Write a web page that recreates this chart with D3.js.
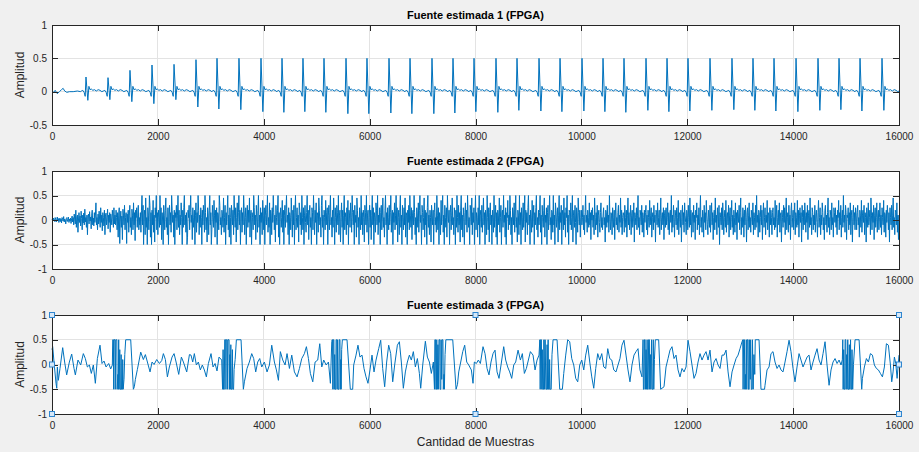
<!DOCTYPE html>
<html>
<head>
<meta charset="utf-8">
<script src="https://cdn.jsdelivr.net/npm/d3@7"></script>
<style>
  body { margin: 0; background: #f0f0f0; }
  svg { display: block; font-family: "Liberation Sans", Arial, Helvetica, sans-serif; }
</style>
</head>
<body>
<div id="chart"></div>
<script>
// ---- datos ----
const titulos = ["Fuente estimada 1 (FPGA)", "Fuente estimada 2 (FPGA)", "Fuente estimada 3 (FPGA)"];
const etiquetaY = "Amplitud";
const etiquetaX = "Cantidad de Muestras";
const ticksX = [0, 2000, 4000, 6000, 8000, 10000, 12000, 14000, 16000];
const ticksY1 = [-0.5, 0, 0.5, 1];
const ticksY23 = [-1, -0.5, 0, 0.5, 1];

// Fuente 1: tramo inicial, posicion de cada latido, pico y valle de cada uno, forma del latido
const inicio1 = [[0, .01], [30, -.01], [60, .02], [100, -.03], [140, 0], [180, .03], [210, .05], [240, .01],
  [280, -.01], [330, 0], [400, 0], [480, .01], [540, 0]];
const latidos = [642, 1058, 1473, 1889, 2305, 2720, 3117, 3532, 3948, 4345, 4741, 5138, 5554, 5950, 6366,
  6763, 7178, 7575, 7972, 8387, 8784, 9200, 9597, 10012, 10409, 10805, 11221, 11618, 12014, 12430, 12845,
  13242, 13639, 14055, 14470, 14867, 15264, 15679];
const picos = [.22, .21, .32, .40, .41, .48, .5, .5, .5, .5, .5, .5, .5, .5, .5, .5, .5, .5, .5, .5, .5, .5,
  .5, .5, .5, .5, .5, .5, .5, .5, .5, .5, .5, .5, .5, .5, .5, .5];
const valles = [-.13, -.12, -.15, -.18, -.12, -.23, -.26, -.27, -.3, -.31, -.3, -.31, -.33, -.33, -.32, -.33,
  -.33, -.32, -.3, -.31, -.28, -.29, -.3, -.29, -.3, -.31, -.28, -.3, -.29, -.28, -.27, -.28, -.29, -.3,
  -.28, -.27, -.29, -.28];
const formaDesfase = [-90, -60, -35, -15, 0, 35, 55, 75, 100, 130, 160, 195, 230, 265, 300];
const formaNivel = [.01, .02, -.01, -.07, "P", "V", .08, .03, .04, .02, .03, .01, .03, .02, 0];

// Fuente 2: una muestra cada 10 (cada fila = 400 muestras)
const paso2 = 10;
const fuente2 = [
  .01,.03,-.02,.04,0,-.03,.05,.02,-.04,.01,.06,-.02,.03,-.05,0,.04,-.03,.02,-.06,.05,.01,-.02,.07,-.04,.02,0,-.08,.03,.05,-.03,.01,.06,-.05,.02,-.02,.04,-.07,.03,.08,-.04,
  .05,-.1,.12,.02,-.08,.2,-.15,.06,.1,-.25,0,.15,-.05,.08,-.12,.18,.03,-.2,.1,-.06,.14,-.1,.22,-.04,.05,-.15,.1,-.3,.08,.12,-.08,.17,-.02,.06,-.18,.1,.2,-.1,.04,-.12,
  .15,-.05,.1,.35,-.1,.05,-.2,.12,-.08,.18,0,-.15,.25,-.05,.1,-.22,.15,.05,-.12,.2,-.3,.08,.14,-.1,.05,.22,-.18,.1,-.05,.15,-.25,.12,.02,-.1,.2,.08,-.15,.25,-.08,.1,
  -.1,.2,.05,-.2,.15,-.35,.1,.25,-.48,0,.18,-.15,.08,-.4,.22,.1,-.1,.3,-.2,.05,.15,-.48,.12,-.05,.2,-.25,.1,.3,-.15,.05,-.3,.22,.1,-.2,.35,-.1,.15,-.42,.2,.05,
  .25,-.15,.1,.3,-.2,.05,-.1,.15,-.25,.2,.5,-.1,.3,-.5,.1,.2,-.3,.45,-.15,.05,-.5,.25,.1,-.2,.5,.3,-.35,.15,-.5,.2,-.1,.4,-.25,.1,-.45,.25,.05,.5,-.2,.15,
  -.3,.2,.05,-.15,.5,-.1,.25,-.4,.15,0,-.5,.3,.1,-.2,.2,.45,-.15,.05,-.3,.25,-.5,.1,.3,-.1,.15,-.25,.5,.2,-.05,.1,-.35,.2,-.5,.15,.05,.3,-.2,.1,.5,-.15,
  .2,-.3,.1,-.1,.35,.05,-.5,.2,-.15,.25,.5,-.1,.1,-.25,.15,-.5,-.35,.2,.05,.3,-.2,.15,.5,-.05,.1,-.4,.25,-.15,.05,.2,-.5,.1,.35,-.25,.15,-.05,.5,.2,-.3,.1,
  -.15,.25,.05,-.5,.2,-.1,.3,.1,-.25,.5,.15,-.2,.05,-.45,.25,.1,-.3,.2,.5,-.1,.15,-.5,-.2,.3,.05,-.15,.4,.1,-.35,.2,-.05,.25,-.5,.15,.1,-.2,.5,.3,-.1,.05,
  -.3,.2,.1,-.15,.45,-.25,.05,.3,-.5,.15,-.1,.2,.5,-.2,.1,-.35,.25,.05,-.5,.3,.15,-.1,.2,-.3,.5,.1,-.15,.25,-.45,.05,.35,-.2,.15,.5,-.1,.2,-.5,.1,.25,-.25,
  .15,-.1,.5,.2,-.3,.05,.25,-.5,.1,.3,-.15,.2,-.05,.45,-.35,.1,.2,-.5,.15,.05,-.2,.5,.25,-.1,.1,-.4,.3,.05,-.25,.2,.5,-.15,.1,-.5,.25,-.05,.15,-.3,.4,.1,
  -.2,.25,-.5,.1,.3,-.1,.15,.5,-.25,.05,-.15,.35,-.5,.2,.1,-.3,.25,-.05,.5,.15,-.2,.1,-.45,.3,.05,-.1,.2,.5,-.35,.15,-.5,.1,.25,-.15,.05,.4,-.25,.2,-.5,.1,
  .3,-.15,.2,.5,-.05,.1,-.3,.25,-.5,.15,.05,-.2,.45,.1,-.35,.2,-.1,.3,-.5,.15,.5,-.2,.05,.25,-.15,.1,-.45,.35,.2,-.1,.15,-.3,.5,.05,-.2,.25,-.5,.1,.3,-.05,
  -.25,.15,.5,-.1,.2,-.4,.1,.3,-.15,.05,-.5,.25,.15,-.2,.5,.1,-.3,.2,-.05,.35,-.5,.15,.1,-.25,.45,.2,-.1,.05,-.35,.3,.5,-.15,.1,-.5,.2,.05,-.2,.4,-.1,.15,
  .25,-.5,.1,.3,-.2,.15,.5,-.1,.05,-.35,.2,-.15,.45,.1,-.5,.25,.05,-.25,.3,.15,-.1,.5,-.3,.1,.2,-.45,.05,.35,-.15,.2,-.5,.1,.5,-.2,.15,.05,-.3,.25,-.1,.4,
  -.5,.2,.1,-.15,.35,.05,-.25,.5,.15,-.1,.2,-.5,.3,-.05,.1,-.35,.45,.2,-.15,.05,-.5,.25,.1,-.2,.5,-.1,.15,-.3,.2,.05,-.45,.3,.15,-.1,.5,-.25,.1,.2,-.5,.05,
  .3,-.15,.2,-.4,.1,.5,-.1,.25,-.5,.15,.05,-.25,.35,.2,-.1,.5,-.3,.1,-.05,.25,-.5,.15,.3,-.2,.1,.45,-.15,.05,-.35,.2,.5,-.1,.15,-.5,.25,.05,-.2,.3,-.1,.15,
  .5,-.25,.1,.2,-.5,.15,-.05,.35,-.2,.1,.5,-.1,.25,-.45,.05,.2,-.3,.15,.5,-.15,.1,-.5,.3,.05,-.2,.25,-.1,.45,-.35,.15,.1,-.5,.2,-.05,.3,-.2,.5,.1,-.15,.25,
  -.4,.1,.2,-.1,.5,.15,-.3,.05,-.5,.25,.1,-.15,.35,-.25,.2,.5,-.05,.1,-.5,.3,.15,-.2,.05,.45,-.35,.2,-.1,.15,-.5,.25,.5,-.15,.1,-.3,.2,.05,-.45,.3,.1,-.1,
  .2,-.5,.15,.35,-.1,.05,-.25,.5,.1,-.2,.25,-.5,.15,.05,-.3,.4,-.1,.2,.5,-.25,.1,-.5,.3,.05,-.15,.25,-.35,.5,.1,-.05,.2,-.5,.15,.3,-.2,.1,.45,-.1,.05,-.3,
  .25,.1,-.5,.2,-.15,.5,.05,-.25,.3,-.1,.15,-.45,.2,.5,-.2,.1,-.35,.25,.05,-.5,.15,.35,-.1,.2,-.25,.5,.1,-.15,.05,-.5,.3,.2,-.1,.45,-.3,.15,-.05,.25,-.5,.1,
  .5,-.2,.15,.05,-.35,.25,-.1,.5,-.5,.1,.2,-.15,.3,-.25,.05,.45,-.1,.15,-.5,.2,.1,-.3,.5,.05,-.2,.25,-.45,.15,.35,-.1,.1,-.5,.2,.05,-.25,.5,-.15,.1,.3,-.35,
  .15,-.5,.2,.1,-.1,.45,-.25,.05,.3,-.5,.15,.2,-.15,.5,-.05,.1,-.35,.25,-.5,.15,.05,.4,-.2,.1,-.1,.5,.2,-.3,.05,-.5,.25,.15,-.1,.35,-.25,.1,.5,-.15,.05,-.45,
  .2,.1,-.3,.5,-.1,.15,-.5,.25,.05,-.2,.35,-.15,.1,.5,-.45,.2,-.05,.15,-.3,.25,.5,-.1,.1,-.5,.2,.05,-.25,.4,-.15,.1,.3,-.5,.15,-.1,.25,.5,-.2,.05,-.35,.2,
  -.1,.15,.5,-.25,.1,-.5,.3,.05,-.15,.2,.45,-.35,.1,-.05,.25,-.5,.15,.3,-.2,.1,.5,-.1,.05,-.4,.2,.15,-.25,.5,-.1,.1,-.5,.35,.2,-.15,.05,.25,-.45,.1,.5,-.2,
  .15,-.05,.3,-.5,.2,.1,-.2,.45,-.1,.15,-.35,.25,.05,.5,-.25,.1,-.5,.2,.15,-.1,.35,-.2,.05,.5,-.45,.1,.2,-.15,.3,-.05,-.5,.25,.1,-.25,.45,.15,-.1,.2,-.35,.05,
  .2,-.1,.05,.3,-.2,.1,-.3,.15,.5,-.05,.1,-.25,.2,.05,-.15,.35,-.1,.15,-.4,.2,0,.25,-.15,.1,-.3,.45,.05,-.2,.15,-.1,.3,-.35,.1,.2,-.05,-.25,.15,.35,-.15,.05,
  -.2,.1,.25,-.1,.05,-.45,.2,.15,-.15,.3,-.05,.1,-.25,.5,0,-.2,.15,.1,-.3,.25,.05,-.15,.2,-.4,.1,.35,-.1,.05,-.2,.15,.3,-.25,.1,-.05,.45,-.15,.2,-.3,.05,.15,
  .1,-.25,.3,.05,-.15,.2,-.35,.1,.45,-.1,.15,-.2,.05,.3,-.3,.1,.2,-.15,0,.35,-.45,.15,.05,-.1,.25,-.2,.1,.5,-.15,.05,-.3,.2,.1,-.1,.3,-.25,.15,.05,-.35,.2,
  -.05,.15,.3,-.2,.1,-.3,.2,.05,-.15,.4,-.1,.1,.25,-.35,.05,.15,-.2,.3,-.05,.1,-.45,.2,.15,-.1,.35,-.15,.05,.2,-.3,.1,.45,-.2,.05,.15,-.1,.25,-.4,.1,.2,-.15,
  .25,-.1,.05,.35,-.2,.15,-.3,.1,.2,-.05,.5,-.25,.1,-.15,.3,.05,-.35,.2,.1,-.1,.25,-.2,.05,.4,-.3,.15,.1,-.15,.2,-.45,.05,.3,-.1,.15,-.25,.35,.1,-.05,-.3,.2,
  .1,-.2,.3,.05,-.15,.45,-.1,.2,-.35,.1,.15,-.25,.3,-.05,.1,-.4,.2,.05,.35,-.2,.1,-.1,.25,-.3,.15,.5,-.15,.05,-.25,.2,.1,-.35,.3,-.05,.15,-.2,.4,.1,-.1,-.3,
  .2,.05,-.15,.3,-.25,.1,.35,-.1,.15,-.4,.05,.2,-.2,.45,-.05,.1,-.3,.25,.1,-.15,.3,-.5,.15,.05,-.1,.25,-.2,.35,.1,-.3,.05,.2,-.15,.4,-.25,.1,.15,-.1,.3,-.35,
  .1,.25,-.2,.05,.4,-.15,.1,-.3,.2,.05,-.25,.35,-.1,.15,-.4,.2,.1,-.05,.3,-.2,.15,.45,-.3,.05,-.15,.25,.1,-.35,.2,-.1,.3,.05,-.45,.15,.25,-.2,.1,.35,-.15,.05,
  -.25,.2,.1,-.1,.35,-.3,.15,.05,-.2,.3,-.15,.5,-.05,.1,-.35,.2,.15,-.25,.05,.3,-.1,.2,-.4,.1,.35,-.15,.05,.25,-.3,.1,-.05,.4,-.2,.15,.1,-.35,.25,-.1,.2,.05,
  -.3,.15,.25,-.1,.05,-.2,.4,-.15,.1,.3,-.35,.05,.2,-.1,.35,-.25,.1,.15,-.45,.2,.05,-.15,.3,-.05,.25,-.3,.1,.45,-.2,.05,.15,-.25,.3,-.1,.1,-.4,.2,.35,-.15,.05,
  .2,-.2,.1,.35,-.3,.15,.05,-.15,.4,-.1,.2,-.35,.1,.25,-.05,.15,-.45,.3,.05,-.2,.2,-.1,.35,.1,-.25,.15,-.05,.3,-.4,.1,.2,-.15,.45,-.1,.05,-.3,.25,.15,-.2,.1,
  -.1,.3,-.25,.1,.2,-.05,-.35,.15,.4,-.15,.05,.25,-.3,.1,-.1,.35,.15,-.2,.05,-.4,.2,.3,-.1,.1,-.25,.15,.45,-.15,.05,-.3,.2,.1,-.2,.35,-.1,.05,-.35,.25,.15,-.05,
  .25,-.15,.1,-.3,.2,.05,.4,-.2,.15,-.1,.3,-.35,.05,.2,-.15,.5,-.05,.1,-.25,.3,.15,-.4,.1,.05,.25,-.2,.15,-.1,.35,-.3,.1,.2,-.45,.05,.3,-.1,.15,-.2,.25,.1,
  -.2,.15,.3,-.1,.05,-.35,.2,.1,-.15,.4,-.25,.1,.2,-.05,.3,-.3,.15,.05,-.45,.25,.1,-.15,.35,-.1,.05,.2,-.3,.45,.1,-.2,.15,-.05,.3,-.4,.1,.25,-.15,.05,.35,-.25,
  .1,.2,-.2,.05,.35,-.15,.1,-.3,.25,.05,-.1,.4,-.25,.15,.1,-.35,.2,-.05,.3,.1,-.2,.15,-.45,.25,.05,-.1,.3,-.2,.1,.45,-.15,.05,-.3,.2,.15,-.1,.35,-.25,.1,-.4,
  .1
];

// Fuente 3: vertices [muestra, amplitud]
const fuente3 = [
  [0,.3],[13,.36],[38,.05],[76,-.38],[90,-.48],[101,-.05],[120,-.32],[151,-.08],[202,.34],[239,.05],[277,-.21],
  [328,.05],[372,.21],[416,-.08],[441,-.21],[491,.09],[542,-.01],[592,.22],[630,.12],[668,-.05],[706,-.01],
  [743,-.18],[781,-.01],[819,-.38],[857,.12],[907,.39],[945,.02],[983,.07],[1021,-.05],[1071,.02],[1109,-.09],
  [1140,-.01],
  [1147,.5],[1160,.5],[1165,-.5],[1172,.5],[1190,.5],[1195,-.5],[1205,.5],[1225,.5],[1230,-.5],[1245,-.2],
  [1252,-.5],[1260,.5],[1266,-.5],[1280,.3],[1286,-.5],[1300,-.5],[1306,.2],[1312,-.5],[1330,-.5],[1336,.1],
  [1345,-.5],[1360,-.3],[1375,.2],[1392,.5],[1487,.5],[1537,-.5],[1555,-.45],
  [1575,-.3],[1613,-.1],[1676,.25],[1726,.1],[1764,.2],[1802,.05],[1852,-.15],[1890,.05],[1928,0],[1978,.1],
  [2029,.02],[2073,.08],[2104,.22],[2142,.1],[2180,-.25],[2217,-.05],[2268,.15],[2306,.22],[2344,.05],
  [2394,-.2],[2444,.15],[2482,.05],[2545,-.15],[2596,.2],[2626,.19],[2658,.05],[2689,.22],[2727,-.01],
  [2765,.05],[2802,-.11],[2840,-.01],[2878,-.11],[2916,-.25],[2954,.02],[3004,.22],[3042,-.05],[3080,.02],
  [3117,-.13],[3155,.15],[3206,.09],
  [3222,-.5],[3232,.3],[3240,-.5],[3255,-.5],[3262,.5],[3280,.5],[3286,-.5],[3292,.5],[3310,.5],[3318,-.5],
  [3325,.5],[3345,.5],[3352,-.5],[3360,.2],[3368,-.5],[3378,.4],[3386,-.5],[3400,-.5],[3408,.3],[3416,-.5],
  [3430,-.5],[3440,-.1],[3460,.1],[3483,.5],[3571,.5],[3615,-.5],[3634,-.35],
  [3684,-.08],[3728,.05],[3773,.22],[3810,.12],[3848,-.15],[3886,.05],[3924,.12],[3962,-.05],[4012,.05],
  [4062,-.15],[4107,-.01],[4151,.39],[4201,.05],[4239,-.11],[4277,-.32],[4314,.26],[4359,.09],[4403,-.01],
  [4440,.22],[4485,-.08],[4529,.19],[4579,-.15],[4629,-.25],[4674,-.08],[4718,.12],[4768,.22],[4806,.36],
  [4844,.12],[4881,-.18],[4926,-.35],[4970,.05],[5020,.09],[5058,.42],[5096,-.05],[5133,.09],[5178,-.01],
  [5222,.05],[5259,-.38],
  [5285,.46],[5290,.5],[5300,.5],[5305,-.5],[5312,.5],[5325,.5],[5330,-.5],[5340,.2],[5346,-.5],[5360,-.5],
  [5366,.5],[5380,.5],[5386,-.5],[5395,.5],[5405,-.5],[5420,-.5],[5426,.5],[5440,.5],[5446,-.5],[5455,.1],
  [5462,-.5],[5472,.3],[5485,.5],[5573,.5],[5635,-.5],[5680,-.5],
  [5699,-.01],[5743,.19],[5780,.39],[5818,.15],[5856,.19],[5894,-.08],[5932,-.25],[5969,-.38],[6007,-.11],
  [6045,.19],[6083,-.15],[6121,.09],[6171,.32],[6209,.49],[6247,-.08],[6284,-.45],[6322,.05],[6360,.39],
  [6398,.22],[6436,-.35],[6473,-.01],[6524,.39],[6562,.46],[6599,.05],[6637,-.48],[6675,-.15],[6713,.05],
  [6751,.19],[6788,.09],[6826,.26],[6864,-.05],[6902,.12],[6940,-.18],[6965,-.48],[7003,-.01],[7053,.47],
  [7091,.15],[7129,.05],[7166,-.18],[7204,.05],
  [7225,-.5],[7232,.5],[7245,.5],[7250,-.5],[7262,-.5],[7268,.5],[7278,-.5],[7290,.4],[7298,-.5],[7310,.5],
  [7325,.5],[7330,-.5],[7345,-.5],[7350,.5],[7362,-.3],[7370,.5],[7385,.5],[7392,-.5],[7405,-.2],[7412,-.5],
  [7425,.2],[7440,.5],[7570,.5],[7633,-.5],[7660,-.4],
  [7683,-.15],[7721,.05],[7759,.26],[7796,.39],[7834,.05],[7872,-.01],[7922,-.11],[7953,-.38],[7978,.05],
  [8016,.02],[8054,.09],[8092,.02],[8142,.36],[8180,.22],[8218,-.08],[8255,-.21],[8293,.05],[8331,.22],
  [8369,.29],[8407,-.15],[8444,-.28],[8482,-.01],[8533,.36],[8570,.09],[8608,-.05],[8646,-.15],[8684,-.28],
  [8722,-.01],[8759,.05],[8804,.29],[8848,.09],[8885,.22],[8923,-.18],[8961,-.08],[8999,.09],[9037,.26],
  [9087,.19],[9125,-.11],[9163,.09],[9200,.19],
  [9215,.5],[9222,-.5],[9230,.5],[9245,.5],[9252,-.5],[9262,.3],[9270,-.5],[9285,-.5],[9292,.5],[9305,-.5],
  [9315,.5],[9330,-.5],[9345,-.5],[9352,.4],[9360,-.5],[9372,.5],[9380,-.5],[9395,-.5],[9400,.1],[9410,-.5],
  [9430,-.5],[9445,.2],[9465,.5],[9541,.5],[9591,-.5],[9641,-.5],
  [9667,-.18],[9704,.19],[9742,.5],[9780,.46],[9818,.12],[9856,-.01],[9893,-.28],[9931,-.35],[9969,-.01],
  [10007,.09],[10045,-.11],[10082,.19],[10120,.39],[10158,.05],[10196,-.25],[10234,-.48],[10271,-.08],
  [10309,.22],[10347,.09],[10385,.22],[10423,-.05],[10460,-.08],[10498,.32],[10536,.12],[10574,.09],
  [10612,-.11],[10654,-.15],[10692,-.01],[10729,.12],[10767,.39],[10805,.49],[10843,.19],[10881,-.11],
  [10918,-.35],[10956,-.01],[10994,.19],[11032,.26],[11070,.32],[11107,-.11],[11145,-.25],
  [11165,.5],[11172,-.5],[11185,-.5],[11192,.5],[11205,.5],[11210,-.5],[11222,.3],[11230,-.5],[11242,.5],
  [11250,-.5],[11262,-.5],[11270,.5],[11285,.5],[11290,-.5],[11305,.2],[11312,-.5],[11325,.5],[11335,-.5],
  [11350,-.5],[11358,.5],[11368,-.5],[11380,.1],[11397,.5],[11460,.5],[11498,-.5],[11561,-.45],
  [11599,-.05],[11637,.12],[11674,.29],[11712,.36],[11750,.12],[11788,.19],[11826,-.11],[11863,-.25],
  [11901,-.08],[11939,-.15],[11977,-.05],[12015,.49],[12052,.26],[12090,-.01],[12128,-.28],[12166,-.18],
  [12204,.05],[12241,.22],[12279,.09],[12317,.19],[12355,.26],[12393,.09],[12430,.29],[12468,-.15],
  [12506,.05],[12544,.12],[12582,-.01],[12619,-.08],[12657,.19],[12695,.19],[12733,.29],[12771,-.15],
  [12808,-.45],[12846,-.15],[12884,-.01],[12922,.12],[12960,.19],[12997,.32],[13035,.46],
  [13048,.5],[13055,-.5],[13065,.5],[13080,.5],[13086,-.5],[13098,-.2],[13105,-.5],[13115,.5],[13125,-.5],
  [13135,.5],[13150,.5],[13156,-.5],[13170,-.5],[13176,.5],[13190,-.3],[13198,.5],[13210,-.5],[13225,-.5],
  [13232,.5],[13245,-.5],[13260,.2],[13275,-.2],[13285,.5],[13356,.5],[13393,-.5],[13460,-.5],
  [13469,-.42],[13507,-.11],[13545,-.05],[13582,.22],[13620,.26],[13658,.05],[13696,-.08],[13734,-.01],
  [13771,-.11],[13809,-.15],[13847,.05],[13885,.26],[13923,.49],[13960,.26],[13998,-.08],[14036,-.35],
  [14074,-.05],[14112,.22],[14149,.09],[14187,-.05],[14225,.05],[14263,.15],[14301,.19],[14338,-.11],
  [14376,.05],[14414,.19],[14452,.32],[14490,.09],[14527,-.01],[14565,.22],[14603,.46],[14641,-.01],
  [14679,-.42],[14716,-.11],[14754,.05],[14792,.12],[14830,.02],[14868,.09],[14905,-.01],
  [14930,.1],[14938,.5],[14945,-.5],[14955,.3],[14962,-.5],[14975,-.5],[14982,.5],[14995,.5],[15000,-.5],
  [15012,.2],[15020,-.5],[15032,.5],[15040,-.5],[15055,-.5],[15062,.4],[15070,-.5],[15085,.5],[15092,-.5],
  [15105,-.5],[15112,.3],[15125,-.5],[15140,0],[15170,.5],[15246,.5],[15296,-.5],
  [15309,-.28],[15346,-.05],[15384,.12],[15422,.05],[15460,.22],[15498,.19],[15535,-.01],[15573,-.08],
  [15611,-.11],[15649,-.18],[15687,-.25],[15724,-.05],[15762,.42],[15800,.39],[15838,-.01],[15863,-.35],
  [15888,-.15],[15913,.15],[15939,.02],[15964,-.28],[16000,.19]
];

// ---- armado de las series ----
const serie1 = inicio1.slice();
latidos.forEach((t, i) => {
    formaDesfase.forEach((o, j) => {
        let v = formaNivel[j];
        if (v === "P") v = picos[i];
        else if (v === "V") v = valles[i];
        serie1.push([t + o, v]);
    });
});
serie1.push([16000, .01]);

const serie2 = fuente2.map((v, i) => [i * paso2, v]);

// ---- dibujo ----
const width = 919, height = 452;
const left = 52, right = 899;
const axisColour = "#262626";

const svg = d3.select("#chart").append("svg")
    .attr("width", width)
    .attr("height", height)
    .style("background", "#f0f0f0");

const x = d3.scaleLinear().domain([0, 16000]).range([left, right]);

const paneles = [
    { title: titulos[0], top: 25, bottom: 125, domain: [-0.5, 1], ticks: ticksY1, data: serie1, lw: 1 },
    { title: titulos[1], top: 171, bottom: 269, domain: [-1, 1], ticks: ticksY23, data: serie2, lw: 1 },
    { title: titulos[2], top: 315, bottom: 414, domain: [-1, 1], ticks: ticksY23, data: fuente3, lw: 1 }
];

const fixFont = g => g.attr("font-family", null).attr("font-size", 10);

paneles.forEach((p, k) => {
    const y = d3.scaleLinear().domain(p.domain).range([p.bottom, p.top]);
    const g = svg.append("g");

    g.append("rect")
        .attr("x", left).attr("y", p.top)
        .attr("width", right - left).attr("height", p.bottom - p.top)
        .attr("fill", "#fff");

    // grid
    g.append("g").selectAll("line").data(ticksX.slice(1, -1)).join("line")
        .attr("x1", d => x(d)).attr("x2", d => x(d))
        .attr("y1", p.top).attr("y2", p.bottom)
        .attr("stroke", "#e3e3e3").attr("shape-rendering", "crispEdges");
    g.append("g").selectAll("line").data(p.ticks.slice(1, -1)).join("line")
        .attr("x1", left).attr("x2", right)
        .attr("y1", d => y(d)).attr("y2", d => y(d))
        .attr("stroke", "#e3e3e3").attr("shape-rendering", "crispEdges");

    // signal
    g.append("path")
        .datum(p.data)
        .attr("d", d3.line().x(d => x(d[0])).y(d => y(d[1])))
        .attr("fill", "none")
        .attr("stroke", "#0072bd")
        .attr("stroke-width", p.lw)
        .attr("stroke-linejoin", "round");

    // axes (ticks inward, box on)
    const bottomAxis = g.append("g")
        .attr("transform", `translate(0,${p.bottom})`)
        .call(d3.axisBottom(x).tickValues(ticksX).tickSize(-6).tickSizeOuter(0).tickPadding(8).tickFormat(d3.format("d")))
        .call(fixFont);
    const topAxis = g.append("g")
        .attr("transform", `translate(0,${p.top})`)
        .call(d3.axisTop(x).tickValues(ticksX).tickSize(-6).tickSizeOuter(0).tickFormat(""));
    const leftAxis = g.append("g")
        .attr("transform", `translate(${left},0)`)
        .call(d3.axisLeft(y).tickValues(p.ticks).tickSize(-6).tickSizeOuter(0).tickPadding(5).tickFormat(d => String(d)))
        .call(fixFont);
    const rightAxis = g.append("g")
        .attr("transform", `translate(${right},0)`)
        .call(d3.axisRight(y).tickValues(p.ticks).tickSize(-6).tickSizeOuter(0).tickFormat(""));

    [bottomAxis, topAxis, leftAxis, rightAxis].forEach(a => {
        a.select(".domain").remove();
        a.selectAll("line").attr("stroke", axisColour).attr("shape-rendering", "crispEdges");
        a.selectAll("text").attr("fill", axisColour);
    });

    g.append("rect")
        .attr("x", left).attr("y", p.top)
        .attr("width", right - left).attr("height", p.bottom - p.top)
        .attr("fill", "none")
        .attr("stroke", axisColour)
        .attr("shape-rendering", "crispEdges");

    g.append("text")
        .attr("x", (left + right) / 2)
        .attr("y", p.top - 6)
        .attr("text-anchor", "middle")
        .attr("font-size", 11)
        .attr("font-weight", "bold")
        .attr("fill", "#000")
        .text(p.title);

    g.append("text")
        .attr("transform", `translate(24,${(p.top + p.bottom) / 2}) rotate(-90)`)
        .attr("text-anchor", "middle")
        .attr("font-size", 12)
        .attr("fill", axisColour)
        .text(etiquetaY);

    // selection handles on the last axes
    if (k === 2) {
        const mx = (left + right) / 2, my = (p.top + p.bottom) / 2;
        const handles = [[left, p.top], [mx, p.top], [right, p.top], [left, my], [right, my],
            [left, p.bottom], [mx, p.bottom], [right, p.bottom]];
        g.append("g").selectAll("rect").data(handles).join("rect")
            .attr("x", d => d[0] - 2.5).attr("y", d => d[1] - 2.5)
            .attr("width", 5).attr("height", 5)
            .attr("fill", "#d6e8f8")
            .attr("stroke", "#2f86d0")
            .attr("stroke-width", 1);
    }
});

svg.append("text")
    .attr("x", (left + right) / 2)
    .attr("y", 446)
    .attr("text-anchor", "middle")
    .attr("font-size", 12)
    .attr("fill", axisColour)
    .text(etiquetaX);
</script>
</body>
</html>
